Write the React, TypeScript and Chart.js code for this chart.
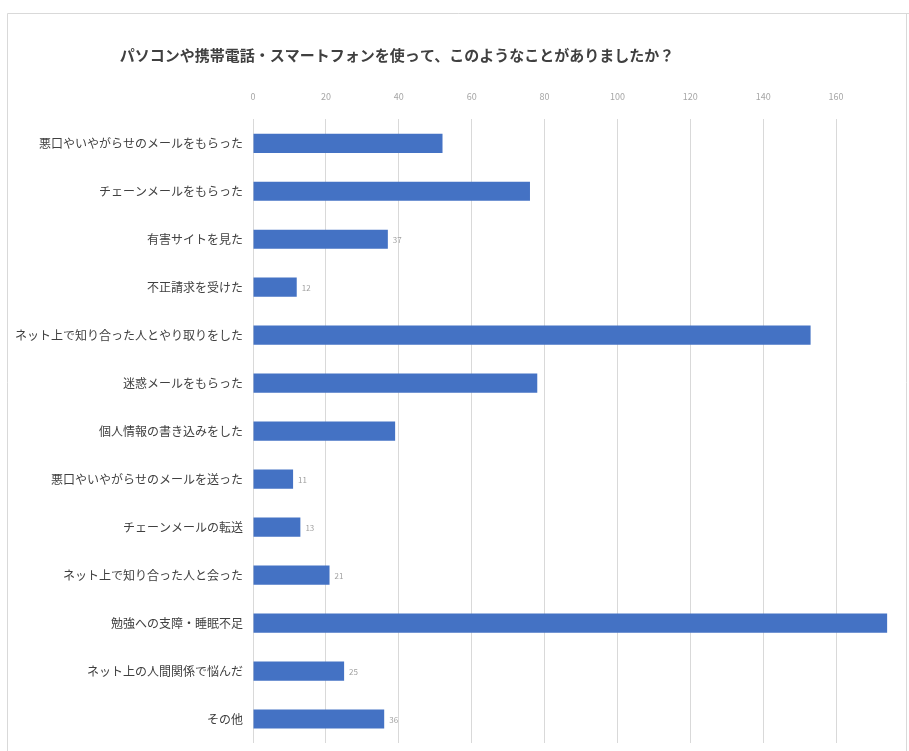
import React, { useEffect, useRef } from "react";
import { Chart, registerables } from "chart.js";

Chart.register(...registerables);

const chartTitle = "パソコンや携帯電話・スマートフォンを使って、このようなことがありましたか？";

const categories = [
  "悪口やいやがらせのメールをもらった",
  "チェーンメールをもらった",
  "有害サイトを見た",
  "不正請求を受けた",
  "ネット上で知り合った人とやり取りをした",
  "迷惑メールをもらった",
  "個人情報の書き込みをした",
  "悪口やいやがらせのメールを送った",
  "チェーンメールの転送",
  "ネット上で知り合った人と会った",
  "勉強への支障・睡眠不足",
  "ネット上の人間関係で悩んだ",
  "その他",
];

const counts = [52, 76, 37, 12, 153, 78, 39, 11, 13, 21, 174, 25, 36];

const xTicks = [0, 20, 40, 60, 80, 100, 120, 140, 160, 180];

// bars whose value label is visible in the reference
const labeledBars = [2, 3, 7, 8, 9, 11, 12];

const JP_FONT = "'Noto Sans CJK JP', 'Noto Sans', sans-serif";

export default function App() {
  const canvasRef = useRef<HTMLCanvasElement | null>(null);

  useEffect(() => {
    if (!canvasRef.current) return;

    const framePlugin = {
      id: "frameAndTitle",
      beforeDraw(chart: any) {
        const ctx = chart.ctx;
        ctx.save();
        ctx.fillStyle = "#ffffff";
        ctx.fillRect(0, 0, chart.width, chart.height);
        ctx.strokeStyle = "#d9d9d9";
        ctx.lineWidth = 1;
        ctx.beginPath();
        ctx.moveTo(7.5, chart.height);
        ctx.lineTo(7.5, 13.5);
        ctx.lineTo(chart.width, 13.5);
        ctx.moveTo(906.5, 14);
        ctx.lineTo(906.5, chart.height);
        ctx.stroke();
        ctx.restore();
      },
      afterDraw(chart: any) {
        const ctx = chart.ctx;
        ctx.save();
        ctx.font = `bold 15px ${JP_FONT}`;
        ctx.fillStyle = "#404040";
        ctx.textAlign = "center";
        ctx.textBaseline = "middle";
        ctx.fillText(chartTitle, 397, 55);

        const meta = chart.getDatasetMeta(0);
        ctx.font = `8px ${JP_FONT}`;
        ctx.fillStyle = "#a0a0a0";
        ctx.textAlign = "left";
        labeledBars.forEach((i) => {
          const bar = meta.data[i];
          if (!bar) return;
          ctx.fillText(String(counts[i]), bar.x + 5, bar.y + 1);
        });
        ctx.restore();
      },
    };

    const chart = new Chart(canvasRef.current, {
      type: "bar",
      data: {
        labels: categories,
        datasets: [
          {
            data: counts,
            backgroundColor: "#4472C4",
            borderWidth: 0,
            barPercentage: 0.4,
            categoryPercentage: 1,
          },
        ],
      },
      options: {
        indexAxis: "y",
        animation: false,
        responsive: true,
        maintainAspectRatio: false,
        layout: { padding: { top: 74.5, right: -4, bottom: 8, left: 8 } },
        plugins: {
          legend: { display: false },
          title: { display: false },
          tooltip: { enabled: false },
        },
        scales: {
          x: {
            position: "top",
            min: 0,
            max: 180,
            afterBuildTicks(scale: any) {
              scale.ticks = xTicks.map((v) => ({ value: v }));
            },
            afterFit(scale: any) {
              scale.paddingLeft = 0;
              scale.paddingRight = 0;
            },
            ticks: {
              stepSize: 20,
              padding: 17,
              color: "#a6a6a6",
              font: { size: 9, family: JP_FONT },
              maxRotation: 0,
              callback: (v: any) => (Number(v) === 180 ? "" : String(v)),
            },
            grid: { color: "#d9d9d9", lineWidth: 1, drawTicks: false },
            border: { display: false },
          },
          y: {
            afterFit(scale: any) {
              scale.width = 245;
              scale.paddingTop = 0;
              scale.paddingBottom = 0;
            },
            ticks: {
              padding: 10,
              color: "#404040",
              font: { size: 12, family: JP_FONT },
              autoSkip: false,
            },
            grid: { display: false, drawTicks: false },
            border: { display: false },
          },
        },
      },
      plugins: [framePlugin],
    });

    return () => chart.destroy();
  }, []);

  return (
    <div
      style={{
        position: "fixed",
        left: 0,
        top: 0,
        width: "909px",
        height: "751px",
        background: "#ffffff",
      }}
    >
      <canvas ref={canvasRef} />
    </div>
  );
}
